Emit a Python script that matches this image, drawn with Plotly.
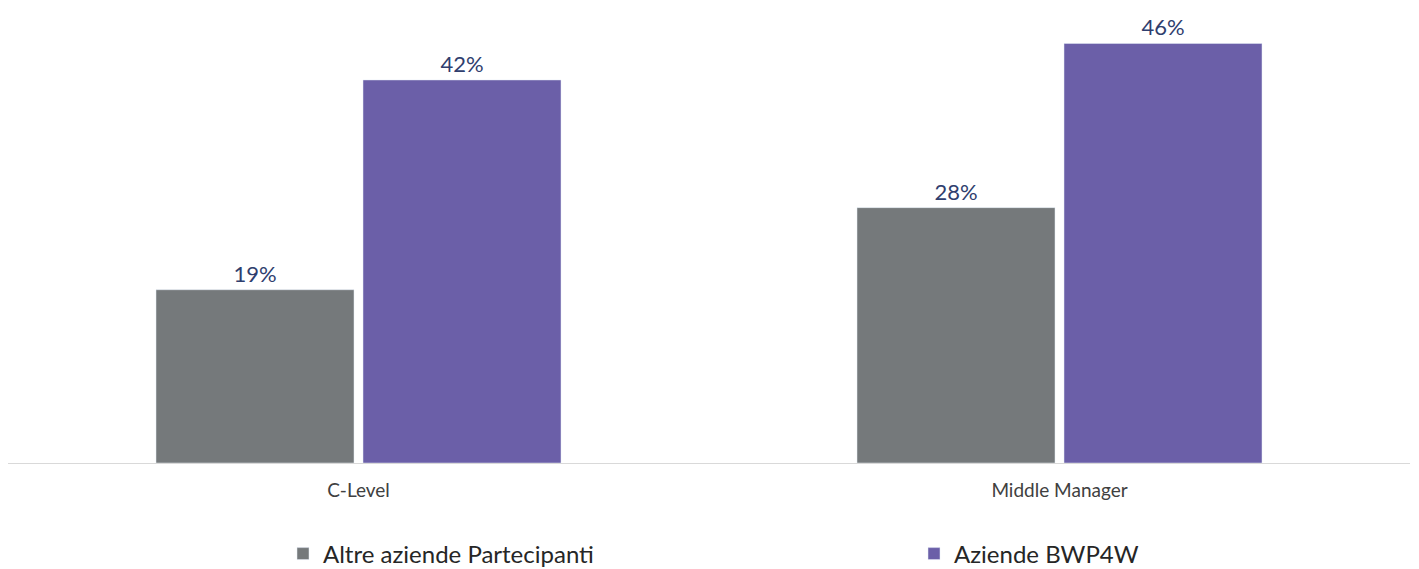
import plotly.graph_objects as go

categories = ["C-Level", "Middle Manager"]
series_names = ["Altre aziende Partecipanti", "Aziende BWP4W"]
altre_values = [19, 28]
bwp4w_values = [42, 46]
colors = ["#75797B", "#6B5FA8"]

FONT = "Lato"
fig = go.Figure()
for name, vals, col in zip(series_names, [altre_values, bwp4w_values], colors):
    fig.add_trace(go.Bar(
        x=categories, y=vals, name=name, marker_color=col,
        text=[f"{v}%" for v in vals], textposition="outside",
        textfont=dict(family=FONT, size=22, color="#2F3E6E"),
        cliponaxis=False,
    ))

fig.update_layout(
    width=1419, height=569,
    margin=dict(l=8, r=9, t=7, b=106, autoexpand=False),
    plot_bgcolor="white", paper_bgcolor="white",
    barmode="group", bargap=0.4094, bargroupgap=0.0435,
    font=dict(family=FONT),
    xaxis=dict(showline=True, linecolor="#D9D9D9", linewidth=1, automargin=False,
               ticks="outside", ticklen=10, tickcolor="rgba(0,0,0,0)",
               tickfont=dict(family=FONT, size=19, color="#404040")),
    yaxis=dict(range=[0, 50], visible=False, showgrid=False, automargin=False),
    showlegend=True,
    legend=dict(orientation="h", xref="container", yref="container",
                x=283 / 1419, xanchor="left", y=1 - 554 / 569, yanchor="middle",
                entrywidth=586, entrywidthmode="pixels",
                font=dict(family=FONT, size=24, color="#262626")),
)
fig.write_html("out.html", config={"displayModeBar": False},
               post_script="document.body.style.margin='0';")
